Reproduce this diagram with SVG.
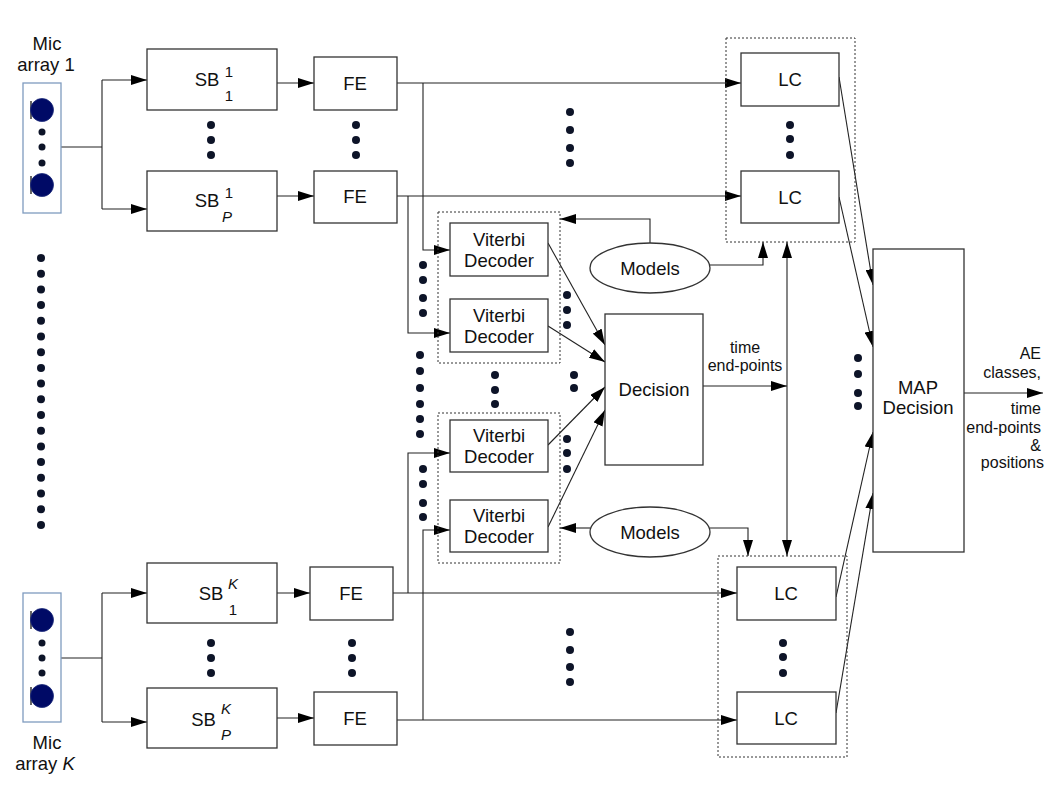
<svg xmlns="http://www.w3.org/2000/svg" width="1058" height="794" viewBox="0 0 1058 794">
<defs>
<marker id="ah" markerUnits="userSpaceOnUse" markerWidth="16" markerHeight="10" refX="16" refY="5" orient="auto-start-reverse"><path d="M0,0 L16,5 L0,10 z" fill="#000"/></marker>
<style>
.box{fill:#fff;stroke:#333;stroke-width:1.3}
.grp{fill:none;stroke:#333;stroke-width:1;stroke-dasharray:2,2}
.mic{fill:#fff;stroke:#7f9bbf;stroke-width:1.3}
.ln{fill:none;stroke:#222;stroke-width:1.1}
.ar{fill:none;stroke:#222;stroke-width:1.1;marker-end:url(#ah)}
.t{font-family:"Liberation Sans",Arial,sans-serif;font-size:18.5px;fill:#111;text-anchor:middle}
.s{font-family:"Liberation Sans",Arial,sans-serif;font-size:15px;fill:#111;text-anchor:middle}
.m{font-family:"Liberation Sans",Arial,sans-serif;font-size:16px;fill:#111;text-anchor:middle}
.r{font-family:"Liberation Sans",Arial,sans-serif;font-size:16px;fill:#111;text-anchor:end}
.d{fill:#0d1428}
.big{fill:#000a66;stroke:#1a2a7a;stroke-width:0.8}
.bar{stroke:#333;stroke-width:1.5}
</style>
</defs>
<rect width="1058" height="794" fill="#fff"/>

<g id="connectors">
<path class="ln" d="M61,147 H102 M102,80 V209"/>
<path class="ar" d="M102,80 H147"/>
<path class="ar" d="M102,209 H147"/>
<path class="ar" d="M277,83 H314"/>
<path class="ar" d="M277,196 H314"/>
<path class="ar" d="M397,83 H741"/>
<path class="ar" d="M423,83 V250 H450"/>
<path class="ar" d="M397,196 H741"/>
<path class="ar" d="M408,196 V333 H450"/>
<path class="ar" d="M650,243 V219 H560"/>
<path class="ar" d="M710,265 H763 V242"/>
<path class="ar" d="M548,243 L605,345"/>
<path class="ar" d="M548,326 L605,362"/>
<path class="ar" d="M548,445 L605,387"/>
<path class="ar" d="M548,527 L605,410"/>
<path class="ar" d="M703,386 H787"/>
<path class="ar" d="M787,556 V242" style="marker-start:url(#ah)"/>
<path class="ar" d="M590,528 H560"/>
<path class="ar" d="M710,528 H748 V556"/>
<path class="ln" d="M61,658 H102 M102,593 V722"/>
<path class="ar" d="M102,593 H147"/>
<path class="ar" d="M102,722 H147"/>
<path class="ar" d="M277,593 H310"/>
<path class="ar" d="M277,718 H314"/>
<path class="ar" d="M393,593 H737"/>
<path class="ar" d="M408,593 V453 H450"/>
<path class="ar" d="M397,720 H737"/>
<path class="ar" d="M423,720 V530 H450"/>
<path class="ar" d="M839,77 L873,285"/>
<path class="ar" d="M839,197 L873,347"/>
<path class="ar" d="M836,597 L873,432"/>
<path class="ar" d="M836,713 L873,493"/>
<path class="ar" d="M964,393 H1043"/>
</g>

<g id="mic1">
<text class="t" x="47" y="50">Mic</text>
<text class="t" x="46" y="71">array 1</text>
<rect class="mic" x="23" y="83" width="38" height="130"/>
<line class="bar" x1="31" y1="101" x2="31" y2="119"/>
<circle class="big" cx="42" cy="110" r="11.5"/>
<line class="bar" x1="31" y1="176" x2="31" y2="194"/>
<circle class="big" cx="42" cy="185" r="11.5"/>
<circle class="d" cx="42" cy="132" r="3.5"/><circle class="d" cx="42" cy="147" r="3.5"/><circle class="d" cx="42" cy="163" r="3.5"/>
</g>

<g id="micK">
<rect class="mic" x="23" y="593" width="38" height="129"/>
<line class="bar" x1="31" y1="611" x2="31" y2="629"/>
<circle class="big" cx="42" cy="620" r="11.5"/>
<line class="bar" x1="31" y1="687" x2="31" y2="705"/>
<circle class="big" cx="42" cy="696" r="11.5"/>
<circle class="d" cx="42" cy="643" r="3.5"/><circle class="d" cx="42" cy="658" r="3.5"/><circle class="d" cx="42" cy="673" r="3.5"/>
<text class="t" x="47" y="749">Mic</text>
<text class="t" x="45" y="770">array <tspan font-style="italic">K</tspan></text>
</g>

<g id="sb11"><rect class="box" x="147" y="49" width="130" height="61"/>
<text class="t" x="207" y="86">SB</text><text class="s" x="229" y="77">1</text><text class="s" x="229" y="101">1</text></g>
<g id="sb1P"><rect class="box" x="147" y="171" width="130" height="60"/>
<text class="t" x="207" y="207">SB</text><text class="s" x="229" y="198">1</text><text class="s" x="227" y="222" font-style="italic">P</text></g>
<g id="sbK1"><rect class="box" x="147" y="563" width="130" height="60"/>
<text class="t" x="211" y="600">SB</text><text class="s" x="233" y="589" font-style="italic">K</text><text class="s" x="233" y="615">1</text></g>
<g id="sbKP"><rect class="box" x="147" y="688" width="130" height="60"/>
<text class="t" x="203.5" y="726">SB</text><text class="s" x="226" y="714" font-style="italic">K</text><text class="s" x="226" y="740" font-style="italic">P</text></g>

<g id="fe1"><rect class="box" x="314" y="57" width="83" height="53"/><text class="t" x="355" y="90">FE</text></g>
<g id="fe2"><rect class="box" x="314" y="171" width="83" height="52"/><text class="t" x="355" y="203">FE</text></g>
<g id="fe3"><rect class="box" x="310" y="567" width="83" height="53"/><text class="t" x="351" y="600">FE</text></g>
<g id="fe4"><rect class="box" x="314" y="692" width="83" height="53"/><text class="t" x="355" y="725">FE</text></g>

<g id="vitGroupTop"><rect class="grp" x="438" y="212" width="122" height="151"/></g>
<g id="vit1"><rect class="box" x="450" y="223" width="98" height="53"/><text class="t" x="499" y="246">Viterbi</text><text class="t" x="499" y="267">Decoder</text></g>
<g id="vit2"><rect class="box" x="450" y="299" width="98" height="53"/><text class="t" x="499" y="322">Viterbi</text><text class="t" x="499" y="343">Decoder</text></g>
<g id="vitGroupBot"><rect class="grp" x="438" y="413" width="122" height="150"/></g>
<g id="vit3"><rect class="box" x="450" y="420" width="98" height="52"/><text class="t" x="499" y="442">Viterbi</text><text class="t" x="499" y="463">Decoder</text></g>
<g id="vit4"><rect class="box" x="450" y="500" width="98" height="52"/><text class="t" x="499" y="522">Viterbi</text><text class="t" x="499" y="543">Decoder</text></g>

<g id="models1"><ellipse class="box" cx="650" cy="268" rx="60" ry="25"/><text class="t" x="650" y="275">Models</text></g>
<g id="models2"><ellipse class="box" cx="650" cy="532" rx="60" ry="25"/><text class="t" x="650" y="539">Models</text></g>

<g id="decision"><rect class="box" x="605" y="314" width="98" height="151"/><text class="t" x="654" y="396">Decision</text>
<text class="m" x="745" y="353">time</text><text class="m" x="745" y="371">end-points</text></g>

<g id="lcGroupTop"><rect class="grp" x="726" y="38" width="129" height="204"/></g>
<g id="lc1"><rect class="box" x="741" y="53" width="98" height="53"/><text class="t" x="790" y="86">LC</text></g>
<g id="lc2"><rect class="box" x="741" y="171" width="98" height="52"/><text class="t" x="790" y="204">LC</text></g>
<g id="lcGroupBot"><rect class="grp" x="718" y="556" width="129" height="201"/></g>
<g id="lc3"><rect class="box" x="737" y="567" width="99" height="53"/><text class="t" x="786" y="600">LC</text></g>
<g id="lc4"><rect class="box" x="737" y="692" width="99" height="52"/><text class="t" x="786" y="725">LC</text></g>

<g id="map"><rect class="box" x="873" y="249" width="91" height="303"/>
<text class="t" x="918" y="394">MAP</text><text class="t" x="918" y="414">Decision</text>
<text class="r" x="1041" y="359">AE</text><text class="r" x="1041" y="378">classes,</text>
<text class="r" x="1041" y="414">time</text><text class="r" x="1041" y="433">end-points</text><text class="r" x="1041" y="451">&amp;</text><text class="r" x="1044" y="468">positions</text></g>

<g id="dots">
<circle class="d" cx="41" cy="258" r="4"/><circle class="d" cx="41" cy="273.7" r="4"/><circle class="d" cx="41" cy="289.4" r="4"/><circle class="d" cx="41" cy="305.1" r="4"/><circle class="d" cx="41" cy="320.8" r="4"/><circle class="d" cx="41" cy="336.5" r="4"/><circle class="d" cx="41" cy="352.2" r="4"/><circle class="d" cx="41" cy="367.9" r="4"/><circle class="d" cx="41" cy="383.6" r="4"/><circle class="d" cx="41" cy="399.3" r="4"/><circle class="d" cx="41" cy="415" r="4"/><circle class="d" cx="41" cy="430.7" r="4"/><circle class="d" cx="41" cy="446.4" r="4"/><circle class="d" cx="41" cy="462.1" r="4"/><circle class="d" cx="41" cy="477.8" r="4"/><circle class="d" cx="41" cy="493.5" r="4"/><circle class="d" cx="41" cy="509.2" r="4"/><circle class="d" cx="41" cy="525" r="4"/>
<circle class="d" cx="211" cy="125" r="4"/><circle class="d" cx="211" cy="140" r="4"/><circle class="d" cx="211" cy="155" r="4"/>
<circle class="d" cx="211" cy="643" r="4"/><circle class="d" cx="211" cy="658" r="4"/><circle class="d" cx="211" cy="673" r="4"/>
<circle class="d" cx="356" cy="125" r="4"/><circle class="d" cx="356" cy="140" r="4"/><circle class="d" cx="356" cy="155" r="4"/>
<circle class="d" cx="352" cy="643" r="4"/><circle class="d" cx="352" cy="658" r="4"/><circle class="d" cx="352" cy="673" r="4"/>
<circle class="d" cx="570" cy="112" r="4"/><circle class="d" cx="570" cy="130" r="4"/><circle class="d" cx="570" cy="148" r="4"/><circle class="d" cx="570" cy="163" r="4"/>
<circle class="d" cx="570" cy="632" r="4"/><circle class="d" cx="570" cy="650" r="4"/><circle class="d" cx="570" cy="667" r="4"/><circle class="d" cx="570" cy="682" r="4"/>
<circle class="d" cx="790" cy="125" r="4"/><circle class="d" cx="790" cy="139" r="4"/><circle class="d" cx="790" cy="155" r="4"/>
<circle class="d" cx="783" cy="643" r="4"/><circle class="d" cx="783" cy="657" r="4"/><circle class="d" cx="783" cy="673" r="4"/>
<circle class="d" cx="423" cy="265" r="4"/><circle class="d" cx="423" cy="280" r="4"/><circle class="d" cx="423" cy="298" r="4"/><circle class="d" cx="423" cy="313" r="4"/>
<circle class="d" cx="420" cy="355" r="4"/><circle class="d" cx="420" cy="371" r="4"/><circle class="d" cx="420" cy="388" r="4"/><circle class="d" cx="420" cy="404" r="4"/><circle class="d" cx="420" cy="419" r="4"/><circle class="d" cx="420" cy="434" r="4"/>
<circle class="d" cx="423" cy="469" r="4"/><circle class="d" cx="423" cy="484" r="4"/><circle class="d" cx="423" cy="503" r="4"/><circle class="d" cx="423" cy="517" r="4"/>
<circle class="d" cx="567" cy="295" r="4"/><circle class="d" cx="567" cy="310" r="4"/><circle class="d" cx="567" cy="325" r="4"/>
<circle class="d" cx="567" cy="439" r="4"/><circle class="d" cx="567" cy="453" r="4"/><circle class="d" cx="567" cy="469" r="4"/>
<circle class="d" cx="495" cy="375" r="4"/><circle class="d" cx="495" cy="390" r="4"/><circle class="d" cx="495" cy="404" r="4"/>
<circle class="d" cx="574" cy="375" r="4"/><circle class="d" cx="574" cy="388" r="4"/>
<circle class="d" cx="858" cy="358" r="4"/><circle class="d" cx="858" cy="374" r="4"/><circle class="d" cx="858" cy="393" r="4"/><circle class="d" cx="858" cy="406" r="4"/>
</g>
</svg>
